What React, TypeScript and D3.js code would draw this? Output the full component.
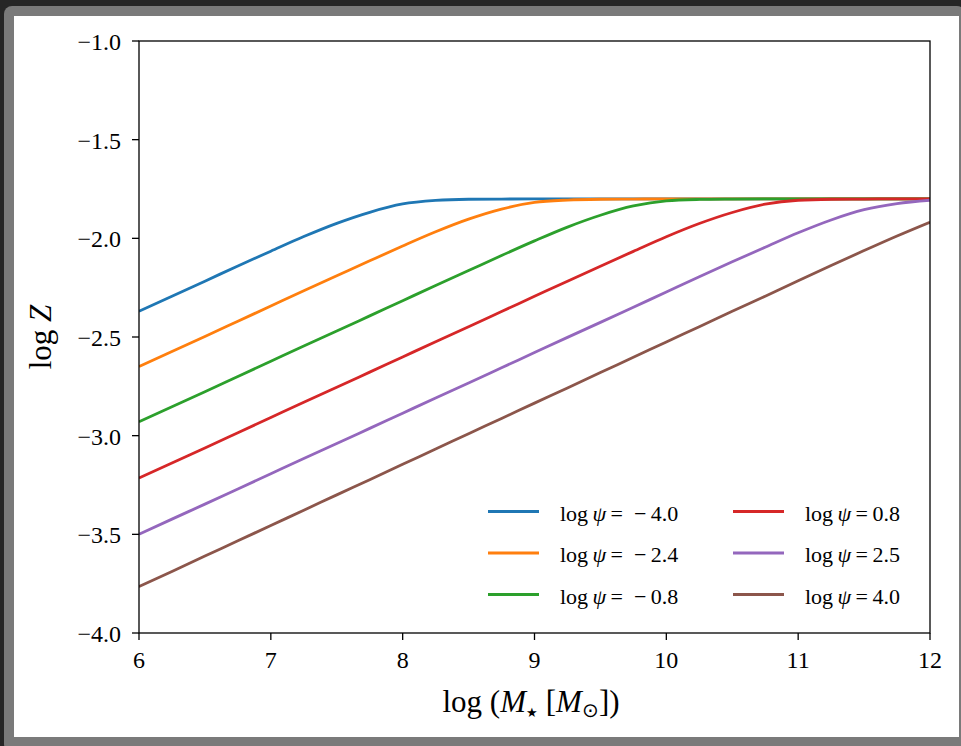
import React from "react";
import * as d3 from "d3";

// ---- data ----
const logMass = [6, 6.25, 6.5, 6.75, 7, 7.25, 7.5, 7.75, 8, 8.25, 8.5, 8.75, 9, 9.25, 9.5, 9.75, 10, 10.25, 10.5, 10.75, 11, 11.25, 11.5, 11.75, 12];

const zPsiM40 = [-2.370, -2.293, -2.217, -2.140, -2.065, -1.991, -1.924, -1.868, -1.826, -1.808, -1.802, -1.801, -1.800, -1.800, -1.800, -1.800, -1.800, -1.800, -1.800, -1.800, -1.800, -1.800, -1.800, -1.800, -1.800];
const zPsiM24 = [-2.650, -2.573, -2.497, -2.420, -2.343, -2.266, -2.190, -2.114, -2.039, -1.967, -1.903, -1.852, -1.818, -1.806, -1.802, -1.801, -1.800, -1.800, -1.800, -1.800, -1.800, -1.800, -1.800, -1.800, -1.800];
const zPsiM08 = [-2.930, -2.853, -2.777, -2.700, -2.623, -2.546, -2.470, -2.393, -2.316, -2.239, -2.163, -2.087, -2.013, -1.943, -1.883, -1.836, -1.810, -1.803, -1.801, -1.800, -1.800, -1.800, -1.800, -1.800, -1.800];
const zPsiP08 = [-3.215, -3.138, -3.062, -2.985, -2.908, -2.831, -2.755, -2.678, -2.601, -2.524, -2.448, -2.371, -2.294, -2.217, -2.141, -2.066, -1.992, -1.925, -1.869, -1.827, -1.807, -1.802, -1.801, -1.800, -1.800];
const zPsiP25 = [-3.500, -3.423, -3.347, -3.270, -3.193, -3.116, -3.040, -2.963, -2.886, -2.809, -2.733, -2.656, -2.579, -2.502, -2.426, -2.349, -2.272, -2.195, -2.119, -2.045, -1.972, -1.907, -1.855, -1.824, -1.807];
const zPsiP40 = [-3.765, -3.688, -3.610, -3.533, -3.455, -3.378, -3.300, -3.223, -3.145, -3.068, -2.990, -2.913, -2.835, -2.758, -2.680, -2.603, -2.525, -2.448, -2.370, -2.293, -2.215, -2.138, -2.062, -1.988, -1.918];

const psiLabels = ["\u22124.0", "\u22122.4", "\u22120.8", "0.8", "2.5", "4.0"];
const seriesValues = [zPsiM40, zPsiM24, zPsiM08, zPsiP08, zPsiP25, zPsiP40];
const seriesColors = ["#1f77b4", "#ff7f0e", "#2ca02c", "#d62728", "#9467bd", "#8c564b"];

const xTicks = [6, 7, 8, 9, 10, 11, 12];
const xTickLabels = ["6", "7", "8", "9", "10", "11", "12"];
const yTicks = [-4, -3.5, -3, -2.5, -2, -1.5, -1];
const yTickLabels = ["\u22124.0", "\u22123.5", "\u22123.0", "\u22122.5", "\u22122.0", "\u22121.5", "\u22121.0"];

const W = 961;
const H = 746;
const PL = 139, PR = 930, PT = 41, PB = 633;
const FONT = "'Liberation Serif', 'Times New Roman', Times, serif";

export default function App() {
  const x = d3.scaleLinear().domain([6, 12]).range([PL, PR]);
  const y = d3.scaleLinear().domain([-4, -1]).range([PB, PT]);
  const line = d3
    .line<[number, number]>()
    .x((d) => x(d[0]))
    .y((d) => y(d[1]))
    .curve(d3.curveMonotoneX);

  const legendRowY = [511.5, 553, 594.5];
  const legendColX = [488, 733];

  return (
    <svg
      width={W}
      height={H}
      style={{ position: "absolute", left: 0, top: 0, display: "block" }}
      fontFamily={FONT}
    >
      {/* screenshot frame */}
      <rect x={0} y={0} width={W} height={H} fill="#262626" />
      <rect x={4} y={6} width={W} height={H} rx={8} fill="#7a7a7a" />
      <rect x={14} y={16} width={945} height={721} fill="#ffffff" />

      <defs>
        <clipPath id="plotClip">
          <rect x={PL} y={PT} width={PR - PL} height={PB - PT} />
        </clipPath>
      </defs>

      {/* lines */}
      <g clipPath="url(#plotClip)">
        {seriesValues.map((vals, i) => (
          <path
            key={i}
            d={line(logMass.map((m, j) => [m, vals[j]] as [number, number])) || ""}
            fill="none"
            stroke={seriesColors[i]}
            strokeWidth={2.8}
            strokeLinejoin="round"
          />
        ))}
      </g>

      {/* axes frame */}
      <rect x={PL} y={PT} width={PR - PL} height={PB - PT} fill="none" stroke="#000" strokeWidth={1.3} />

      {/* x ticks */}
      {xTicks.map((t, i) => (
        <g key={"xt" + i}>
          <line x1={x(t)} x2={x(t)} y1={PB} y2={PB + 7} stroke="#000" strokeWidth={1.3} />
          <text x={x(t)} y={668} textAnchor="middle" fontSize={24} fill="#000">
            {xTickLabels[i]}
          </text>
        </g>
      ))}

      {/* y ticks */}
      {yTicks.map((t, i) => (
        <g key={"yt" + i}>
          <line x1={PL - 7} x2={PL} y1={y(t)} y2={y(t)} stroke="#000" strokeWidth={1.3} />
          <text x={121} y={y(t) + 9} textAnchor="end" fontSize={24} fill="#000">
            {yTickLabels[i]}
          </text>
        </g>
      ))}

      {/* x label */}
      <text x={531} y={712} textAnchor="middle" fontSize={31} fill="#000" xmlSpace="preserve">
        <tspan>{"log\u2005("}</tspan>
        <tspan fontStyle="italic">M</tspan>
        <tspan fontSize={13} dy={5}>{"\u2605"}</tspan>
        <tspan dy={-5}>{"\u2005["}</tspan>
        <tspan fontStyle="italic">M</tspan>
        <tspan fontSize={20} dy={5}>{"\u2299"}</tspan>
        <tspan dy={-5}>{"])"}</tspan>
      </text>

      {/* y label */}
      <text
        transform={`translate(51, ${(PT + PB) / 2}) rotate(-90)`}
        textAnchor="middle"
        fontSize={31}
        fill="#000"
      >
        <tspan>log </tspan>
        <tspan fontStyle="italic">Z</tspan>
      </text>

      {/* legend */}
      {psiLabels.map((lab, i) => {
        const col = Math.floor(i / 3);
        const row = i % 3;
        const lx = legendColX[col];
        const ly = legendRowY[row];
        const neg = lab.startsWith("\u2212");
        return (
          <g key={"lg" + i}>
            <line x1={lx} x2={lx + 51} y1={ly} y2={ly} stroke={seriesColors[i]} strokeWidth={2.8} />
            <text x={lx + 72} y={ly + 9} fontSize={22} fill="#000" xmlSpace="preserve">
              <tspan>{"log\u2009"}</tspan>
              <tspan fontStyle="italic">{"\u03C8"}</tspan>
              <tspan>{neg ? "\u2009=\u2002" + lab.replace("\u2212", "\u2212\u2009") : "\u2009=\u2009" + lab}</tspan>
            </text>
          </g>
        );
      })}
    </svg>
  );
}
